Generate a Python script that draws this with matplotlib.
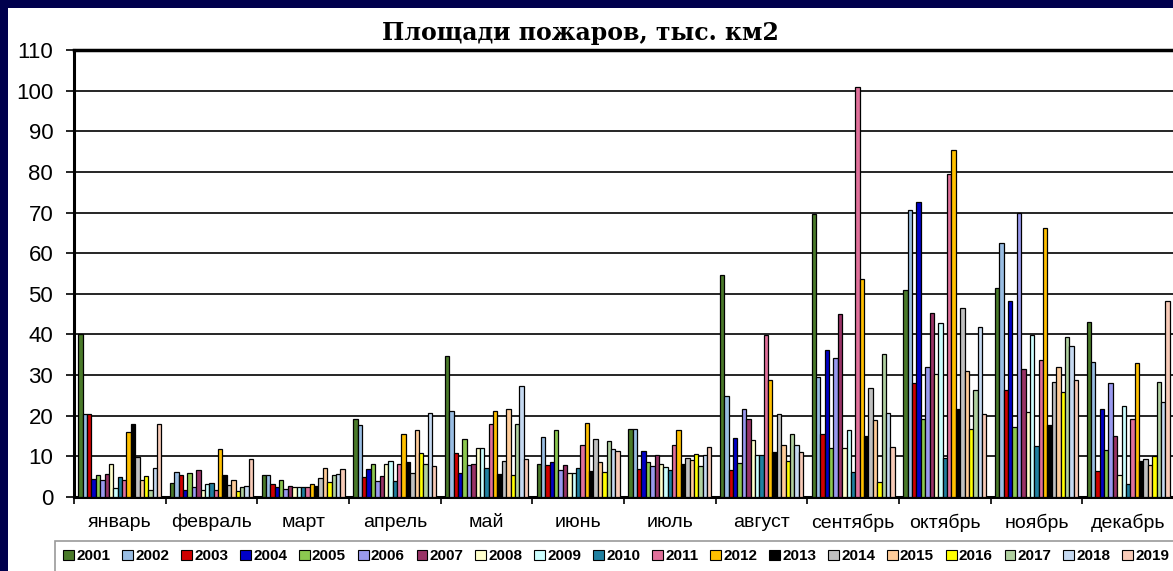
import matplotlib
matplotlib.use('Agg')
from matplotlib import pyplot as plt
from matplotlib.patches import Rectangle, Patch
import numpy as np

months = ['январь', 'февраль', 'март', 'апрель', 'май', 'июнь',
          'июль', 'август', 'сентябрь', 'октябрь', 'ноябрь', 'декабрь']
years = [str(y) for y in range(2001, 2020)]

# values by year, one per month (тыс. км2)
v2001 = [40.0, 3.4, 5.5, 19.2, 34.7, 8.2, 16.7, 54.7, 69.7, 50.9, 51.5, 43.1]
v2002 = [20.5, 6.1, 5.5, 17.6, 21.1, 14.8, 16.7, 24.8, 29.6, 70.6, 62.4, 33.3]
v2003 = [20.5, 5.5, 3.2, 4.9, 10.8, 7.8, 6.8, 6.6, 15.5, 28.0, 26.3, 6.4]
v2004 = [4.4, 1.6, 2.5, 6.9, 5.9, 8.6, 11.3, 14.5, 36.1, 72.6, 48.3, 21.7]
v2005 = [5.3, 5.9, 4.1, 8.2, 14.3, 16.4, 8.5, 8.4, 12.0, 19.2, 17.3, 11.6]
v2006 = [4.3, 2.5, 2.0, 3.9, 7.8, 6.7, 7.6, 21.6, 34.1, 31.9, 70.0, 28.0]
v2007 = [5.7, 6.6, 2.6, 5.1, 8.0, 7.8, 10.3, 19.3, 45.0, 45.2, 31.5, 15.1]
v2008 = [8.2, 1.6, 2.5, 8.2, 12.1, 5.8, 8.0, 14.1, 12.1, 30.2, 21.0, 5.5]
v2009 = [2.2, 3.3, 2.5, 8.9, 12.1, 6.0, 7.4, 10.3, 16.6, 42.7, 39.8, 22.5]
v2010 = [4.9, 3.4, 2.5, 3.9, 7.1, 7.2, 6.7, 10.3, 6.1, 9.5, 12.5, 3.1]
v2011 = [4.1, 1.6, 2.5, 8.2, 17.9, 12.7, 12.7, 39.9, 100.9, 79.4, 33.7, 19.1]
v2012 = [16.1, 11.8, 3.2, 15.4, 21.1, 18.2, 16.6, 28.9, 53.6, 85.3, 66.1, 33.0]
v2013 = [18.0, 5.5, 2.6, 8.5, 5.6, 6.4, 8.2, 11.1, 15.1, 21.6, 17.7, 8.9]
v2014 = [9.8, 2.9, 4.6, 5.8, 8.9, 14.3, 9.7, 20.4, 26.9, 46.6, 28.4, 9.3]
v2015 = [4.1, 4.1, 7.1, 16.4, 21.6, 8.5, 9.0, 12.9, 18.9, 31.1, 32.0, 7.8]
v2016 = [5.1, 1.4, 3.6, 10.8, 5.3, 6.2, 10.5, 8.9, 3.6, 16.7, 25.9, 10.2]
v2017 = [1.6, 2.5, 5.4, 8.2, 17.9, 13.8, 7.6, 15.4, 35.3, 26.3, 39.4, 28.3]
v2018 = [7.1, 2.8, 5.7, 20.7, 27.3, 11.7, 10.4, 12.7, 20.6, 41.9, 37.2, 23.5]
v2019 = [18.0, 9.4, 6.9, 7.6, 9.4, 11.3, 12.2, 11.0, 12.2, 20.4, 28.8, 48.3]

series = [v2001, v2002, v2003, v2004, v2005, v2006, v2007, v2008, v2009, v2010,
          v2011, v2012, v2013, v2014, v2015, v2016, v2017, v2018, v2019]

colors = ['#4a7a2a', '#99bde3', '#d00000', '#0000c8', '#8cc850', '#9999ee',
          '#993366', '#ffffcc', '#ccffff', '#2080a0', '#e0709a', '#ffc000',
          '#000000', '#c0c0c0', '#ffcc99', '#ffff00', '#b0d0a0', '#c5d9f1',
          '#f8cbb8']

W, H = 1173, 571
fig = plt.figure(figsize=(W / 100, H / 100), dpi=100, facecolor='#00004d')
# white chart area inside the navy border
fig.patches.append(Rectangle((8 / W, 0), 1, 1 - 8 / H, transform=fig.transFigure,
                             facecolor='white', edgecolor='none', zorder=-10))

ax = fig.add_axes([74 / W, 1 - 497 / H, 1100 / W, 447 / H])
ax.set_facecolor('white')

n = len(series)
group = 0.906
bw = group / n
x0 = np.arange(len(months)) + 0.5 - group / 2
for i, vals in enumerate(series):
    ax.bar(x0 + i * bw + bw / 2, vals, width=bw, color=colors[i],
           edgecolor='black', linewidth=0.9, zorder=3)

ax.set_xlim(0, len(months))
ax.set_ylim(0, 110)
ax.set_yticks(np.arange(0, 111, 10))
ax.yaxis.grid(True, color='black', linewidth=1.2, zorder=0)
ax.set_axisbelow(True)

ax.set_xticks(np.arange(len(months)) + 0.5)
ax.set_xticklabels(months, fontsize=14, family='Liberation Sans')
ax.set_xticks(np.arange(len(months) + 1), minor=True)
ax.tick_params(axis='x', which='major', length=0, pad=12)
ax.tick_params(axis='x', which='minor', length=5, width=1.2, direction='out')
ax.tick_params(axis='y', length=6, width=1.2, labelsize=16, pad=9)
for lab in ax.get_yticklabels():
    lab.set_family('Liberation Sans')

for s in ['left', 'bottom']:
    ax.spines[s].set_linewidth(2.2)
ax.spines['top'].set_linewidth(2.5)
ax.spines['right'].set_visible(False)

fig.text(580 / W, 1 - 33 / H, 'Площади пожаров, тыс. км2', ha='center', va='center',
         fontsize=17, fontweight='bold', family='DejaVu Serif')

handles = [Patch(facecolor=c, edgecolor='black', linewidth=0.8) for c in colors]
leg = fig.legend(handles, years, loc='upper left', bbox_to_anchor=(55 / W, 1 - 541 / H),
                 ncol=19, fontsize=11, frameon=True, fancybox=False,
                 handlelength=0.7, handleheight=0.7, handletextpad=0.15,
                 columnspacing=0.78, borderpad=0.55, borderaxespad=0)
leg.get_frame().set_edgecolor('#808080')
leg.get_frame().set_linewidth(1.2)
for t in leg.get_texts():
    t.set_family('Liberation Sans')
    t.set_fontweight('bold')

fig.savefig('out.png', dpi=100, facecolor=fig.get_facecolor())
